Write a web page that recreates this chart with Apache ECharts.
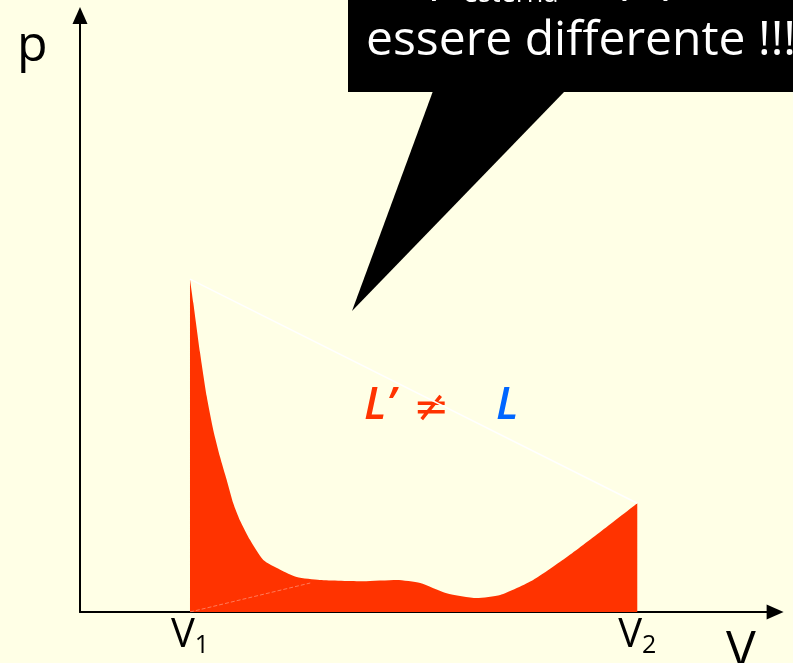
<!DOCTYPE html>
<html>
<head>
<meta charset="utf-8">
<script src="https://cdn.jsdelivr.net/npm/echarts@6/dist/echarts.min.js"></script>
<style>
  html, body { margin: 0; padding: 0; background: #FFFFE6; }
  #chart { width: 793px; height: 663px; }
</style>
</head>
<body>
<div id="chart"></div>
<script>
// p–V diagram: irregular transformation from V1 to V2
var volumeTicks = [1.5, 7.6];               // V1, V2
var tickLabels = ['V1', 'V2'];
// actual (irregular) path p(V) between V1 and V2
var pathV = [1.50, 1.545, 1.636, 1.728, 1.818, 1.909, 2.00, 2.09, 2.18, 2.32, 2.50, 2.73, 2.955, 3.27, 3.86, 4.32, 4.64, 5.00, 5.41, 5.73, 6.18, 6.64, 7.09, 7.60];
var pathP = [5.51, 5.12, 4.30, 3.57, 3.01, 2.57, 2.19, 1.80, 1.52, 1.19, 0.86, 0.70, 0.58, 0.53, 0.51, 0.53, 0.48, 0.31, 0.23, 0.28, 0.53, 0.91, 1.32, 1.80];
// straight path joining the two end states
var directV = [1.5, 7.6];
var directP = [5.51, 1.8];

var pathData = pathV.map(function (v, i) { return [v, pathP[i]]; });
var directData = directV.map(function (v, i) { return [v, directP[i]]; });

var chart = echarts.init(document.getElementById('chart'), null, { renderer: 'canvas' });
var FONT = '"Open Sans", sans-serif';

var axisLineStyle = {
  onZero: false,
  lineStyle: { color: '#000', width: 2 },
  symbol: ['none', 'triangle'],
  symbolSize: [15, 17],
  symbolOffset: [0, -1.5]
};

chart.setOption({
  backgroundColor: '#FFFFE6',
  animation: false,
  grid: { left: 80, top: 14, width: 696.6, height: 598, containLabel: false },
  xAxis: {
    type: 'value', min: 0, max: 9.5,
    splitLine: { show: false },
    axisLine: axisLineStyle,
    axisTick: { show: false },
    axisLabel: {
      customValues: volumeTicks,
      margin: 4,
      formatter: function (val) {
        var i = volumeTicks.indexOf(val);
        var t = tickLabels[i];
        return '{v|' + t.charAt(0) + '}{s|' + t.slice(1) + '}';
      },
      rich: {
        v: { fontFamily: FONT, fontSize: 40, color: '#000', verticalAlign: 'top', lineHeight: 42 },
        s: { fontFamily: FONT, fontSize: 25, color: '#000', verticalAlign: 'bottom', padding: [20, 0, 0, 0], lineHeight: 42 }
      }
    }
  },
  yAxis: {
    type: 'value', min: 0, max: 9.9,
    splitLine: { show: false },
    axisLine: axisLineStyle,
    axisTick: { show: false },
    axisLabel: { show: false }
  },
  series: [
    {
      type: 'line', data: pathData, smooth: 0.2, showSymbol: false,
      lineStyle: { width: 0, color: '#FF3300' },
      areaStyle: { color: '#FF3300', opacity: 1 },
      z: 2
    },
    {
      type: 'line', data: [[1.5, 0], [3.14, 0.48]], showSymbol: false,
      lineStyle: { width: 1, color: '#FFFFFF', opacity: 0.35, type: 'dashed' },
      z: 3
    },
    {
      type: 'line', data: directData, showSymbol: false,
      lineStyle: { width: 1.5, color: '#FFFFFF' },
      z: 4
    }
  ],
  graphic: [
    // axis names
    { type: 'text', left: 17, top: 22, style: { text: 'p', font: '50px ' + FONT, fill: '#000' } },
    { type: 'text', left: 726, top: 627, style: { text: 'V', font: '50px ' + FONT, fill: '#000' } },
    // L' ≠ L
    { type: 'text', left: 364, top: 384, style: { text: "L’", font: 'italic 600 45px ' + FONT, fill: '#FF3300' } },
    { type: 'text', left: 413, top: 388, style: { text: '≠', font: '43px "DejaVu Sans", sans-serif', fill: '#FF3300' } },
    { type: 'text', left: 496, top: 384, style: { text: 'L', font: 'italic 600 45px ' + FONT, fill: '#0066FF' } },
    // callout balloon
    { type: 'rect', shape: { x: 348, y: -10, width: 460, height: 102 }, style: { fill: '#000' }, z: 10 },
    { type: 'polygon', shape: { points: [[433, 91], [565, 91], [352, 311]] }, style: { fill: '#000' }, z: 10 },
    { type: 'text', left: 428, top: -47, z: 11, style: { text: 'p', font: '47px ' + FONT, fill: '#fff' } },
    { type: 'text', left: 463, top: -19, z: 11, style: { text: 'esterna', font: '27px ' + FONT, fill: '#fff' } },
    { type: 'text', left: 580, top: -47, z: 11, style: { text: 'e p possono', font: '47px ' + FONT, fill: '#fff' } },
    { type: 'text', left: 366, top: 17, z: 11, style: { text: 'essere differente !!!', font: '48px ' + FONT, fill: '#fff' } }
  ]
});
</script>
</body>
</html>
